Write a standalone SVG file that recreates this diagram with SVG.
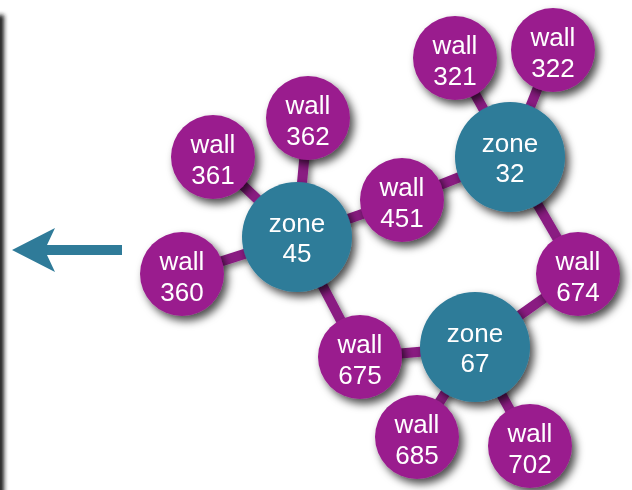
<svg xmlns="http://www.w3.org/2000/svg" width="632" height="490" viewBox="0 0 632 490">
<defs>
<filter id="sh" x="-30%" y="-30%" width="160%" height="160%">
<feDropShadow dx="4" dy="5" stdDeviation="4" flood-color="#000" flood-opacity="0.7"/>
</filter>
<filter id="lsh" x="-20%" y="-20%" width="140%" height="140%">
<feDropShadow dx="3" dy="3" stdDeviation="3" flood-color="#000" flood-opacity="0.5"/>
</filter>
<filter id="bl" x="-200%" y="-10%" width="500%" height="120%">
<feGaussianBlur stdDeviation="2"/>
</filter>
</defs>
<style>
.wall{fill:#9a1f8e}
.zone{fill:#2f7b99}
.t{fill:#fff;font-family:"Liberation Sans",Arial,sans-serif;font-size:26px;text-anchor:middle}
.e{stroke:#8a1a82;stroke-width:10;fill:none}
</style>
<rect width="632" height="490" fill="#fff"/>
<rect x="-4" y="15" width="8" height="490" fill="#222" filter="url(#bl)"/>
<g id="arrow">
<polygon points="12,250 55,228 47,245 122,245 122,255 47,255 55,272" fill="#2f7b99"/>
</g>
<g id="connectors" filter="url(#lsh)">
<line class="e" x1="297" y1="237" x2="182" y2="274"/>
<line class="e" x1="297" y1="237" x2="213" y2="157"/>
<line class="e" x1="297" y1="237" x2="308" y2="118"/>
<line class="e" x1="297" y1="237" x2="402" y2="200"/>
<line class="e" x1="297" y1="237" x2="360" y2="357"/>
<line class="e" x1="402" y1="200" x2="510" y2="157"/>
<line class="e" x1="510" y1="157" x2="455" y2="58"/>
<line class="e" x1="510" y1="157" x2="553" y2="50"/>
<line class="e" x1="510" y1="157" x2="578" y2="274"/>
<line class="e" x1="578" y1="274" x2="475" y2="347"/>
<line class="e" x1="475" y1="347" x2="360" y2="357"/>
<line class="e" x1="475" y1="347" x2="417" y2="437"/>
<line class="e" x1="475" y1="347" x2="530" y2="446"/>
</g>
<g id="wall360" filter="url(#sh)"><circle class="wall" cx="182" cy="274" r="42"/><text class="t" x="182" y="270">wall</text><text class="t" x="182" y="301">360</text></g>
<g id="wall361" filter="url(#sh)"><circle class="wall" cx="213" cy="157" r="42"/><text class="t" x="213" y="153">wall</text><text class="t" x="213" y="184">361</text></g>
<g id="wall362" filter="url(#sh)"><circle class="wall" cx="308" cy="118" r="42"/><text class="t" x="308" y="114">wall</text><text class="t" x="308" y="145">362</text></g>
<g id="wall451" filter="url(#sh)"><circle class="wall" cx="402" cy="200" r="42"/><text class="t" x="402" y="196">wall</text><text class="t" x="402" y="227">451</text></g>
<g id="wall321" filter="url(#sh)"><circle class="wall" cx="455" cy="58" r="42"/><text class="t" x="455" y="54">wall</text><text class="t" x="455" y="85">321</text></g>
<g id="wall322" filter="url(#sh)"><circle class="wall" cx="553" cy="50" r="42"/><text class="t" x="553" y="46">wall</text><text class="t" x="553" y="77">322</text></g>
<g id="wall674" filter="url(#sh)"><circle class="wall" cx="578" cy="274" r="42"/><text class="t" x="578" y="270">wall</text><text class="t" x="578" y="301">674</text></g>
<g id="wall675" filter="url(#sh)"><circle class="wall" cx="360" cy="357" r="42"/><text class="t" x="360" y="353">wall</text><text class="t" x="360" y="384">675</text></g>
<g id="wall685" filter="url(#sh)"><circle class="wall" cx="417" cy="437" r="42"/><text class="t" x="417" y="433">wall</text><text class="t" x="417" y="464">685</text></g>
<g id="wall702" filter="url(#sh)"><circle class="wall" cx="530" cy="446" r="42"/><text class="t" x="530" y="442">wall</text><text class="t" x="530" y="473">702</text></g>
<g id="zone45" filter="url(#sh)"><circle class="zone" cx="297" cy="237" r="55"/><text class="t" x="297" y="232">zone</text><text class="t" x="297" y="262">45</text></g>
<g id="zone32" filter="url(#sh)"><circle class="zone" cx="510" cy="157" r="55"/><text class="t" x="510" y="152">zone</text><text class="t" x="510" y="182">32</text></g>
<g id="zone67" filter="url(#sh)"><circle class="zone" cx="475" cy="347" r="55"/><text class="t" x="475" y="342">zone</text><text class="t" x="475" y="372">67</text></g>
</svg>
